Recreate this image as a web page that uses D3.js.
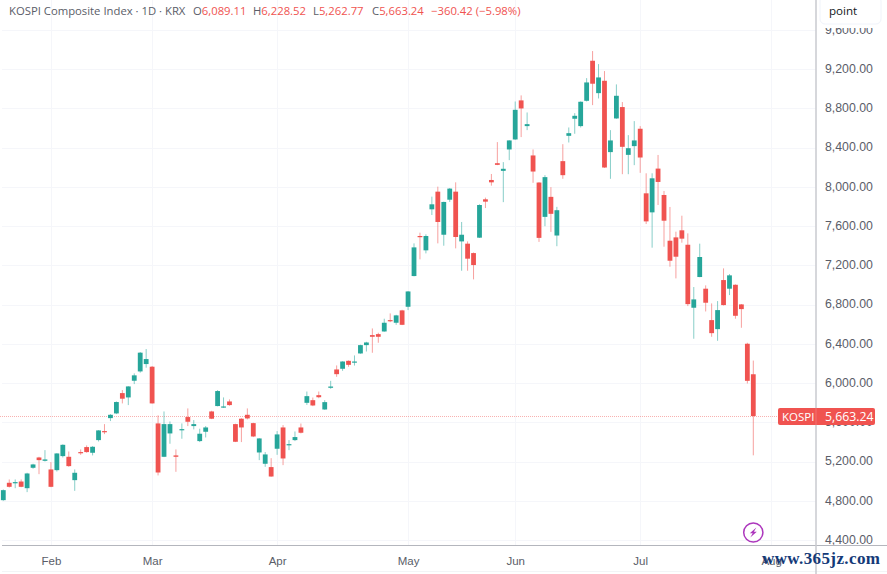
<!DOCTYPE html>
<html>
<head>
<meta charset="utf-8">
<title>KOSPI Composite Index</title>
<script src="https://cdn.jsdelivr.net/npm/d3@7"></script>
<style>
  html, body { margin: 0; padding: 0; background: #fff; }
  svg { display: block; font-family: "Open Sans", "DejaVu Sans", sans-serif; }
</style>
</head>
<body>
<svg id="chart" width="887" height="574"></svg>
<script>
// Daily OHLC candles, one entry per trading session
const opens = [4806,4983,4979,4996,4928,5136,5241,5207,5119,5112,5255,5248,5010,5296,5347,5289,5418,5510,5642,5690,5897,5853,6023,6118,6193,6166,5588,5248,5486,5262,5520,5653,5561,5408,5503,5710,5765,5755,5812,5581,5636,5676,5591,5292,5177,5143,5330,5547,5370,5418,5547,5798,5825,5876,5730,5951,6138,6145,6226,6209,6301,6386,6488,6498,6525,6641,6614,6740,6777,7090,7498,7352,7770,7950,7511,7868,7950,7443,7420,7324,7481,7872,8069,8240,8162,8380,8482,8880,8618,8319,8043,7693,7897,7503,8261,8519,8693,8618,8876,9284,8954,9080,8353,8696,8812,8325,8414,8591,7933,7739,8185,7916,7450,7484,7556,7409,6767,7080,6961,6641,6549,7049,6961,7001,6801,6400,6089.11];
const highs = [4915,5017,5017,5017,5085,5177,5248,5316,5194,5285,5375,5302,5119,5323,5364,5357,5520,5581,5683,5812,5928,5968,6098,6316,6346,6173,5670,5710,5608,5323,5588,5741,5622,5534,5561,5717,5928,5853,5833,5585,5642,5741,5595,5438,5296,5234,5510,5571,5418,5506,5587,5913,5852,5913,5825,6022,6179,6222,6230,6281,6390,6420,6556,6512,6655,6709,6695,6746,6937,7423,7532,7515,7899,8001,7848,7987,8045,7641,7443,7330,7821,7889,8130,8455,8251,8475,8869,8931,8757,8380,8047,8118,7996,7795,8434,8604,8750,8870,9107,9383,9250,9179,8577,9043,8863,8526,8669,8618,8137,8137,8324,7957,7794,7542,7705,7525,6978,7420,6995,6811,6835,7168,7110,7005,6805,6410,6228.52];
const lows = [4800,4935,4928,4938,4888,5126,5071,5200,4938,5098,5241,5146,4901,5268,5289,5262,5404,5479,5612,5683,5792,5775,5989,6105,6156,5790,5058,5245,5381,5095,5432,5561,5527,5398,5445,5632,5762,5748,5768,5398,5398,5629,5449,5214,5146,5044,5268,5163,5316,5408,5486,5777,5764,5845,5727,5941,6063,6124,6165,6178,6298,6321,6308,6410,6522,6620,6593,6590,6743,7087,7260,7321,7712,7423,7399,7845,7372,7144,7144,7056,7478,7783,8011,8220,7843,8271,8478,8506,8577,8040,7438,7598,7540,7394,8081,8451,8540,8604,8869,8832,8900,8192,8081,8692,8128,8128,8220,8142,7620,7379,7814,7389,7185,7066,7430,6784,6451,7078,6729,6471,6430,6790,6896,6655,6563,5995,5262.77];
const closes = [4908,4942,4990,4942,5078,5170,5214,5221,4942,5282,5370,5153,5085,5289,5296,5350,5517,5503,5676,5806,5840,5965,6078,6309,6244,5792,5088,5581,5581,5248,5530,5605,5581,5483,5547,5636,5918,5761,5775,5401,5547,5639,5455,5435,5272,5047,5476,5231,5377,5449,5493,5866,5771,5855,5805,5964,6090,6219,6185,6219,6386,6413,6471,6471,6614,6634,6689,6593,6933,7382,7488,7498,7821,7641,7845,7981,7488,7511,7267,7202,7814,7848,8045,8223,8183,8472,8784,8798,8638,8155,7479,8098,7724,7761,8118,8546,8723,8866,9063,9050,9114,8196,8472,8927,8407,8393,8472,8298,7647,8086,8049,7654,7246,7287,7471,6804,6852,7284,6818,6508,6743,6794,7097,6685,6753,6022,5663.24];

// Price axis ticks
const priceTicks = [4400,4800,5200,5600,6000,6400,6800,7200,7600,8000,8400,8800,9200,9600];

// Month boundaries on the time axis, as session indices
const monthLabels = ["Feb","Mar","Apr","May","Jun","Jul","Aug"];
const monthSessions = [8,25,46,68,86,107,129];

const legend = {
  title: "KOSPI Composite Index · 1D · KRX",
  fields: [["O","6,089.11"],["H","6,228.52"],["L","5,262.77"],["C","5,663.24"]],
  change: "−360.42 (−5.98%)"
};

const lastClose = closes[closes.length - 1];
const UP = "#26a69a", DOWN = "#f05350", GRID = "#f5f6fa", TEXT = "#5a5d68";

const svg = d3.select("#chart");
const plotRight = 816, plotBottom = 545;

const x = d3.scaleLinear().domain([0, 126]).range([3.3, 753.3]);
const y = d3.scaleLinear().domain([4400, 9600]).range([540, 29.75]);

// Grid
const grid = svg.append("g").attr("fill", "none").attr("stroke", GRID);
grid.selectAll("line.h").data(priceTicks).join("line").attr("class", "h")
  .attr("x1", 2).attr("x2", plotRight)
  .attr("y1", d => Math.round(y(d)) + .5).attr("y2", d => Math.round(y(d)) + .5);
grid.selectAll("line.v").data(monthSessions).join("line").attr("class", "v")
  .attr("y1", 0).attr("y2", plotBottom)
  .attr("x1", d => Math.round(x(d)) + .5).attr("x2", d => Math.round(x(d)) + .5);

// Last price guide
svg.append("line")
  .attr("x1", 0).attr("x2", plotRight)
  .attr("y1", Math.round(y(lastClose)) + .5).attr("y2", Math.round(y(lastClose)) + .5)
  .attr("stroke", DOWN).attr("stroke-opacity", .45).attr("stroke-dasharray", "1 1");

// Candles
const candles = svg.append("g").selectAll("g").data(d3.range(opens.length)).join("g")
  .attr("fill", i => closes[i] >= opens[i] ? UP : DOWN)
  .attr("stroke", i => closes[i] >= opens[i] ? UP : DOWN);
candles.append("line")
  .attr("stroke-width", 1).attr("stroke-opacity", .55)
  .attr("x1", i => x(i)).attr("x2", i => x(i))
  .attr("y1", i => y(highs[i])).attr("y2", i => y(lows[i]));
candles.append("rect")
  .attr("stroke", "none")
  .attr("x", i => x(i) - 2.4).attr("width", 4.8)
  .attr("y", i => y(Math.max(opens[i], closes[i])))
  .attr("height", i => Math.max(1.2, Math.abs(y(opens[i]) - y(closes[i]))));

// Price axis
const yAxis = svg.append("g")
  .attr("transform", `translate(${plotRight},0)`)
  .call(d3.axisRight(y).tickValues(priceTicks).tickSize(0).tickFormat(d3.format(",.2f")));
yAxis.select(".domain").remove();
yAxis.selectAll("text")
  .attr("x", 9).attr("dy", "0.28em").attr("text-anchor", "start")
  .attr("fill", TEXT).attr("font-size", 12.3).attr("font-family", null);

// Time axis
const xAxis = svg.append("g")
  .attr("transform", `translate(0,${plotBottom})`)
  .call(d3.axisBottom(x).tickValues(monthSessions).tickSize(0)
    .tickFormat((d, i) => monthLabels[i]));
xAxis.select(".domain").remove();
xAxis.selectAll("text")
  .attr("dy", 0).attr("y", 20)
  .attr("fill", TEXT).attr("font-size", 11.5).attr("font-weight", 500).attr("font-family", null);

// Panel borders
svg.append("line").attr("x1", 2).attr("x2", 887).attr("y1", plotBottom + .5).attr("y2", plotBottom + .5)
  .attr("stroke", "#b4b6bd").attr("stroke-width", 1);
svg.append("line").attr("x1", 2).attr("x2", 887).attr("y1", 571.5).attr("y2", 571.5)
  .attr("stroke", "#f3f4f6").attr("stroke-width", 1);
svg.append("line").attr("x1", plotRight).attr("x2", plotRight).attr("y1", 0).attr("y2", 574)
  .attr("stroke", "#c9cacf").attr("stroke-width", 1.5);

// Legend line
const head = svg.append("text").attr("x", 9).attr("y", 14.5).attr("font-size", 11.3).attr("fill", TEXT);
head.append("tspan").text(legend.title);
const fieldX = [193, 253, 313, 372];
legend.fields.forEach(([k, v], i) => {
  const t = svg.append("text").attr("x", fieldX[i]).attr("y", 14.5).attr("font-size", 11.3);
  t.append("tspan").attr("fill", TEXT).text(k);
  t.append("tspan").attr("fill", DOWN).text(v);
});
svg.append("text").attr("x", 431).attr("y", 14.5).attr("font-size", 11.3).attr("fill", DOWN).text(legend.change);

// Last price tag
const tagY = y(lastClose);
svg.append("rect").attr("x", 778).attr("y", tagY - 8).attr("width", 97).attr("height", 17)
  .attr("rx", 2).attr("fill", DOWN);
svg.append("line").attr("x1", plotRight).attr("x2", plotRight).attr("y1", tagY - 8).attr("y2", tagY + 9)
  .attr("stroke", "#fff").attr("stroke-opacity", .12).attr("stroke-width", 1.5);
svg.append("text").attr("x", 782).attr("y", tagY + 4.5).attr("font-size", 11.5).attr("font-weight", 500).attr("fill", "#fff").text("KOSPI");
svg.append("text").attr("x", 825).attr("y", tagY + 4.5).attr("font-size", 12.3).attr("fill", "#fff")
  .text(d3.format(",.2f")(lastClose));

// Scale selector
svg.append("rect").attr("x", 818).attr("y", 0).attr("width", 69).attr("height", 28).attr("fill", "#fff");
svg.append("rect").attr("x", 820).attr("y", -4).attr("width", 61).attr("height", 28).attr("rx", 5)
  .attr("fill", "#fff").attr("stroke", "#f0f3fa");
svg.append("text").attr("x", 829).attr("y", 15).attr("font-size", 11.6).attr("fill", "#131722").text("point");

// Flash badge
const badge = svg.append("g").attr("transform", `translate(${x(126)},532.5)`);
badge.append("circle").attr("r", 9.6).attr("fill", "none").attr("stroke", "#ad37bd").attr("stroke-width", 1.5);
badge.append("path").attr("d", "M3,-5 L-3.5,0.8 L-0.6,0.8 L-3,5 L3.5,-0.8 L0.6,-0.8 Z").attr("fill", "#ad37bd");

// Site mark
svg.append("text").attr("x", 762).attr("y", 563.5).attr("font-family", "'Liberation Serif', serif")
  .attr("font-weight", 700).attr("font-size", 17).attr("fill", "#143a78")
  .attr("textLength", 118).attr("lengthAdjust", "spacing").text("www.365jz.com");
</script>
</body>
</html>
